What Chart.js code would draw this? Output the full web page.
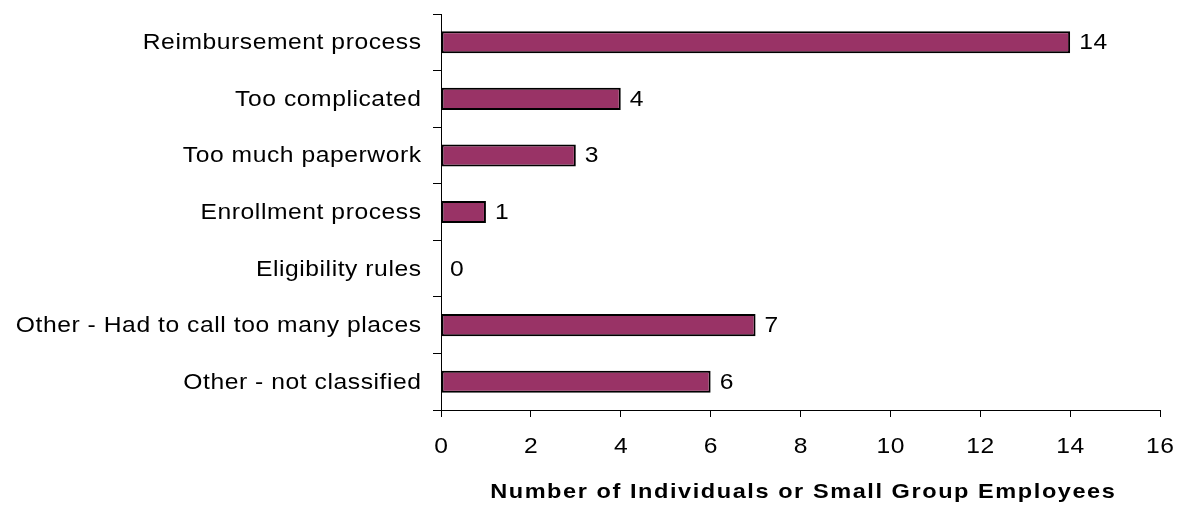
<!DOCTYPE html>
<html>
<head>
<meta charset="utf-8">
<script src="https://cdn.jsdelivr.net/npm/chart.js@4/dist/chart.umd.min.js"></script>
<style>
  html, body { margin: 0; padding: 0; background: #fff; }
  #wrap { width: 1177px; height: 506px; }
</style>
</head>
<body>
<div id="wrap"><canvas id="chart" width="1177" height="506"></canvas></div>
<script>
const categories = [
  "Reimbursement process",
  "Too complicated",
  "Too much paperwork",
  "Enrollment process",
  "Eligibility rules",
  "Other - Had to call too many places",
  "Other - not classified"
];
const counts = [14, 4, 3, 1, 0, 7, 6];
const xTicks = [0, 2, 4, 6, 8, 10, 12, 14, 16];
const xTitle = "Number of Individuals or Small Group Employees";

const FONT = "'Liberation Sans', Arial, sans-serif";
const STRETCH = 1.12; // the original text is a bit wider than Arial

// draw one piece of text, stretched horizontally
function wideText(ctx, text, x, y, align, font, spacing) {
  ctx.save();
  ctx.translate(x, y);
  ctx.scale(STRETCH, 1);
  ctx.font = font;
  ctx.letterSpacing = spacing + "px";
  ctx.fillStyle = "#000";
  ctx.textAlign = align;
  ctx.textBaseline = "middle";
  // letterSpacing also adds space after the last glyph
  let dx = 0;
  if (align === "right") dx = spacing;
  if (align === "center") dx = spacing / 2;
  ctx.fillText(text, dx, 0);
  ctx.restore();
}

const textLayer = {
  id: "textLayer",
  afterDraw(chart) {
    const ctx = chart.ctx;
    const xs = chart.scales.x;
    const ys = chart.scales.y;
    const area = chart.chartArea;
    const plain = "22px " + FONT;

    categories.forEach((c, i) => {
      wideText(ctx, c, area.left - 20, ys.getPixelForValue(i) + 1, "right", plain, 0.5);
    });
    xTicks.forEach((v) => {
      wideText(ctx, String(v), xs.getPixelForValue(v), 447, "center", plain, 0.5);
    });
    chart.getDatasetMeta(0).data.forEach((bar, i) => {
      wideText(ctx, String(counts[i]), bar.x + 9, bar.y + 1, "left", plain, 0.5);
    });
    wideText(ctx, xTitle, (area.left + area.right) / 2 + 2, 492, "center", "bold 21px " + FONT, 1.4);
  }
};

new Chart(document.getElementById("chart"), {
  type: "bar",
  data: {
    labels: categories,
    datasets: [{
      data: counts,
      backgroundColor: "#993366",
      borderColor: "#000",
      borderWidth: 2,
      borderSkipped: false,
      barPercentage: 0.39,
      categoryPercentage: 1
    }]
  },
  options: {
    indexAxis: "y",
    responsive: false,
    animation: false,
    layout: { padding: { top: 14, right: 17, left: 0, bottom: 0 } },
    plugins: {
      legend: { display: false },
      tooltip: { enabled: false }
    },
    scales: {
      x: {
        min: 0,
        max: 16,
        afterBuildTicks: (scale) => { scale.ticks = xTicks.map(v => ({ value: v })); },
        grid: {
          drawOnChartArea: false,
          drawTicks: true,
          tickLength: 7,
          color: "#000",
          lineWidth: 1
        },
        border: { color: "#000", width: 1 },
        ticks: { display: false },
        afterFit: (scale) => {
          scale.height = 96;
          scale.paddingLeft = 0;
          scale.paddingRight = 0;
        }
      },
      y: {
        grid: {
          drawOnChartArea: false,
          drawTicks: true,
          tickLength: 8,
          color: "#000",
          lineWidth: 1,
          offset: true
        },
        border: { color: "#000", width: 1 },
        ticks: { display: false },
        afterFit: (scale) => {
          scale.width = 441;
          scale.paddingTop = 0;
          scale.paddingBottom = 0;
        }
      }
    }
  },
  plugins: [textLayer]
});
</script>
</body>
</html>
